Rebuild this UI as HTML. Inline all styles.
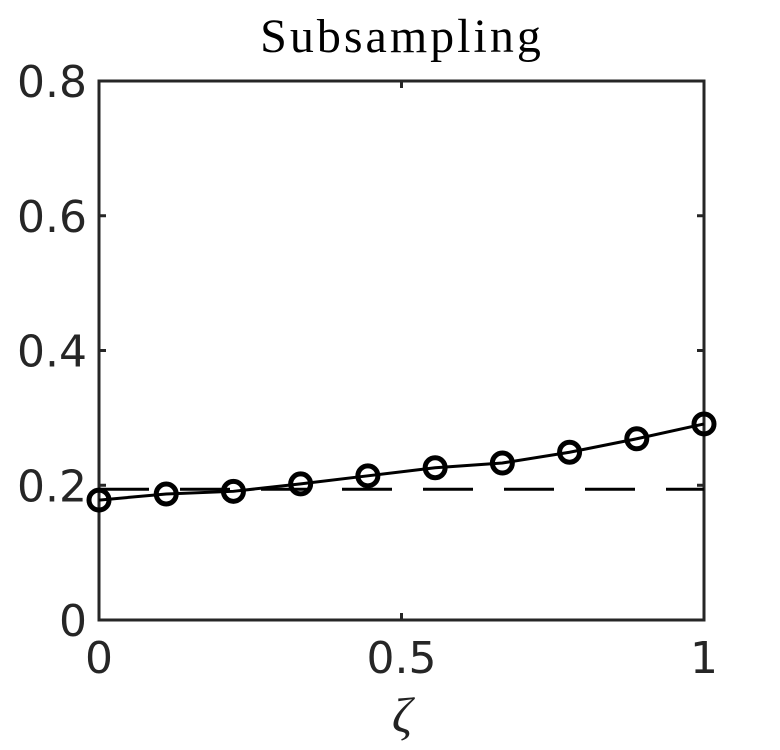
<!DOCTYPE html>
<html><head><meta charset="utf-8"><style>
html,body{margin:0;padding:0;background:#fff;width:780px;height:750px;overflow:hidden}
</style></head><body>
<svg id="chart" width="780" height="750" xmlns="http://www.w3.org/2000/svg">
<text x="402" y="52" text-anchor="middle" font-family="'Liberation Serif', serif" font-size="48" letter-spacing="3" fill="#000">Subsampling</text>
<g id="plot"></g>
<text x="402" y="732" text-anchor="middle" font-family="'Liberation Serif', serif" font-style="italic" font-size="50" fill="#222">ζ</text>
</svg>
<script>
const xValues = [0, 0.1111, 0.2222, 0.3333, 0.4444, 0.5556, 0.6667, 0.7778, 0.8889, 1];
const yValues = [0.178, 0.187, 0.191, 0.202, 0.214, 0.226, 0.233, 0.249, 0.269, 0.291];
const baselineValue = [0.194];
const xTicks = [0, 0.5, 1];
const xTickLabels = ["0", "0.5", "1"];
const yTicks = [0, 0.2, 0.4, 0.6, 0.8];
const yTickLabels = ["0", "0.2", "0.4", "0.6", "0.8"];

const L=99,R=704,T=81,B=620;
const sx=v=>L+(R-L)*v;
const sy=v=>B-(B-T)*v/0.8;
const NS="http://www.w3.org/2000/svg";
const g=document.getElementById('plot');
function mk(tag,attrs){const e=document.createElementNS(NS,tag);for(const k in attrs)e.setAttribute(k,attrs[k]);g.appendChild(e);return e;}

xTicks.forEach((t,i)=>{
  const a=mk('line',{x1:sx(t),x2:sx(t),y1:B,y2:B-7,stroke:'#262626','stroke-width':3});
  
  
  const b=mk('line',{x1:sx(t),x2:sx(t),y1:T,y2:T+7,stroke:'#262626','stroke-width':3});
  
  
  const tx=mk('text',{x:sx(t),y:B+53,'text-anchor':'middle','font-family':"'DejaVu Sans', sans-serif",'font-size':44,fill:'#262626'});
  tx.textContent=xTickLabels[i];
  
  
});
yTicks.forEach((t,i)=>{
  const a=mk('line',{x1:L,x2:L+7,y1:sy(t),y2:sy(t),stroke:'#262626','stroke-width':3});
  
  
  const b=mk('line',{x1:R,x2:R-7,y1:sy(t),y2:sy(t),stroke:'#262626','stroke-width':3});
  
  
  const tx=mk('text',{x:L-12,y:sy(t)+16,'text-anchor':'end','font-family':"'DejaVu Sans', sans-serif",'font-size':44,fill:'#262626'});
  tx.textContent=yTickLabels[i];
  
  
});
const box=mk('rect',{x:L,y:T,width:R-L,height:B-T,fill:'none',stroke:'#262626','stroke-width':3});



const dash=mk('line',{x1:L,x2:R,y1:sy(baselineValue[0]),y2:sy(baselineValue[0]),stroke:'#000','stroke-width':3,'stroke-dasharray':'50,31'});



const pts=xValues.map((x,i)=>sx(x)+','+sy(yValues[i])).join(' ');
const line=mk('polyline',{points:pts,fill:'none',stroke:'#000','stroke-width':3});


xValues.forEach((x,i)=>{
  const c=mk('circle',{cx:sx(x),cy:sy(yValues[i]),r:10,fill:'none',stroke:'#000','stroke-width':5});
  
  
});
</script>
</body></html>
